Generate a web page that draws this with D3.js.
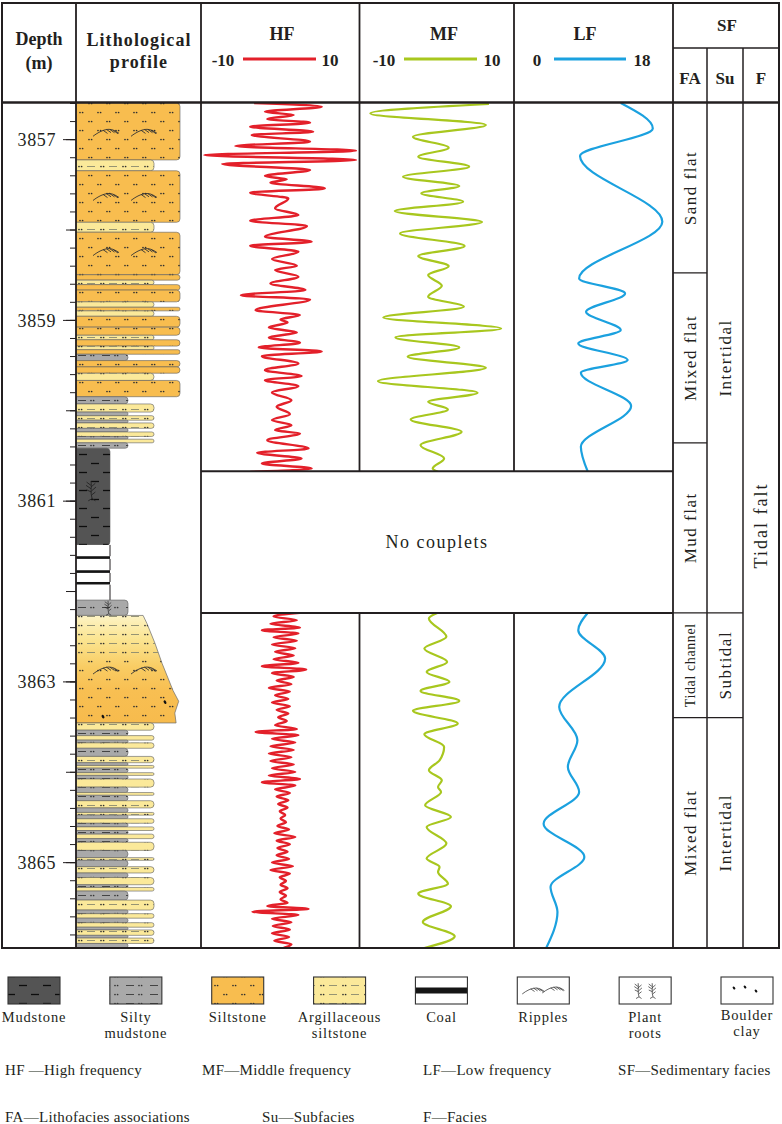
<!DOCTYPE html>
<html>
<head>
<meta charset="utf-8">
<script src="https://cdn.jsdelivr.net/npm/d3@7/dist/d3.min.js"></script>
<style>
html,body{margin:0;padding:0;background:#fff;}
svg{display:block;}
</style>
</head>
<body>
<svg id="chart" width="782" height="1124"></svg>
<script>
// ================= DATA =================
const depthDomain = [3856.6, 3865.95];
const depthLabels = [3857, 3859, 3861, 3863, 3865];
const hfRange = [-10, 10];
const mfRange = [-10, 10];
const lfRange = [0, 18];
const gapInterval = [3860.674, 3862.242];   // "No couplets"

// lithology beds: [top depth (m), lithology]
const beds = [
 [3856.60,"silt"],[3857.23,"argill"],[3857.35,"silt"],[3857.92,"argill"],[3858.03,"silt"],
 [3858.50,"silt"],[3858.56,"argill"],[3858.61,"silt"],[3858.67,"silt"],[3858.80,"argill"],
 [3858.86,"silt"],[3858.90,"argill"],[3858.96,"silt"],[3859.08,"silt"],[3859.17,"argill"],
 [3859.22,"silt"],[3859.29,"argill"],[3859.33,"silt"],[3859.38,"silty"],[3859.45,"silt"],
 [3859.52,"silt"],[3859.59,"argill"],[3859.67,"silt"],[3859.85,"silty"],[3859.93,"argill"],
 [3860.02,"silty"],[3860.06,"argill"],[3860.11,"silty"],[3860.14,"argill"],[3860.20,"silty"],
 [3860.24,"argill"],[3860.29,"silty"],[3860.32,"argill"],[3860.36,"silty"],[3860.42,"mud"],
 [3861.49,"gap"],[3861.615,"coal"],[3861.645,"gap"],[3861.77,"coal"],[3861.80,"gap"],
 [3861.90,"coal"],[3861.93,"gap"],[3862.10,"silty"],[3862.27,"graded"],
 [3863.46,"argill"],[3863.54,"silty"],[3863.60,"argill"],[3863.65,"silty"],[3863.68,"argill"],
 [3863.74,"silty"],[3863.83,"argill"],[3863.90,"silty"],[3863.93,"argill"],[3863.96,"silty"],
 [3864.01,"argill"],[3864.04,"silty"],[3864.08,"argill"],[3864.17,"silty"],[3864.23,"argill"],
 [3864.26,"silty"],[3864.32,"argill"],[3864.40,"silty"],[3864.45,"argill"],[3864.48,"silty"],
 [3864.52,"argill"],[3864.57,"silty"],[3864.61,"argill"],[3864.65,"silty"],[3864.69,"argill"],
 [3864.74,"silty"],[3864.78,"argill"],[3864.87,"silty"],[3864.95,"argill"],[3864.98,"silty"],
 [3865.05,"argill"],[3865.12,"silty"],[3865.17,"argill"],[3865.25,"silty"],[3865.28,"argill"],
 [3865.32,"silty"],[3865.42,"argill"],[3865.53,"silty"],[3865.57,"argill"],[3865.62,"silty"],
 [3865.67,"argill"],[3865.72,"silty"],[3865.75,"argill"],[3865.81,"silty"],[3865.84,"argill"],
 [3865.90,"silty"]
];
// grain-size classes (column width in a litholog)
const grainClass = {mud:1, gap:1, coal:1, silty:2, argill:3, silt:4};
// fining-upward bed: right edge as [depth, grain class]
const gradedEdge = [[3862.27,2.58],[3862.36,2.73],[3862.58,3.04],[3862.80,3.31],[3863.10,3.73],[3863.22,3.95],[3863.35,3.8],[3863.46,3.85]];
const rippleDepths = [3856.93, 3857.64, 3858.25, 3862.88];
const rootDepths = [3860.88, 3862.18];
const boulderDepths = [3863.23, 3863.39];

// wavelet curves: [depth, amplitude]
const hfUpper = [
 [3856.60,-3.3],[3856.641,5.4],[3856.696,-1.9],[3856.733,1.8],[3856.777,-1.6],[3856.818,3.9],
 [3856.862,-3.8],[3856.918,4.3],[3856.954,-3.6],[3857.028,3.9],[3857.076,-5.7],[3857.128,9.8],
 [3857.176,-9.7],[3857.231,9.8],[3857.275,-7.4],[3857.342,3.9],[3857.408,-1.9],[3857.445,0.9],
 [3857.482,-1.2],[3857.545,5.8],[3857.593,-3.8],[3857.656,1.1],[3857.766,-0.6],[3857.840,2.4],
 [3857.903,-3.8],[3857.962,3.5],[3858.080,-1.9],[3858.135,4.1],[3858.180,-3.8],[3858.246,2.4],
 [3858.327,-1.0],[3858.401,2.2],[3858.449,-0.6],[3858.523,2.4],[3858.597,-1.2],[3858.670,3.3],
 [3858.726,-5.0],[3858.774,3.9],[3858.892,-3.1],[3858.947,2.6],[3858.995,0.1],[3859.028,1.0],
 [3859.084,-1.4],[3859.139,2.2],[3859.194,-1.4],[3859.253,2.6],[3859.305,-2.7],[3859.349,5.4],
 [3859.401,-2.3],[3859.482,2.4],[3859.556,-1.9],[3859.622,2.8],[3859.667,-1.9],[3859.733,2.4],
 [3859.803,-1.0],[3859.888,1.5],[3859.962,-0.4],[3860.043,1.3],[3860.109,-1.0],[3860.165,1.5],
 [3860.220,-0.6],[3860.257,2.6],[3860.331,-1.6],[3860.423,3.7],[3860.471,-2.9],[3860.534,2.8],
 [3860.589,-2.3],[3860.645,4.1],[3860.682,-3.8]
];
const hfLower = [
 [3862.242,2.6],[3862.282,-0.8],[3862.323,2.2],[3862.363,-1.2],[3862.404,2.6],[3862.433,-2.3],
 [3862.470,2.4],[3862.511,-0.8],[3862.551,2.2],[3862.592,-1.0],[3862.633,2.0],[3862.673,-0.6],
 [3862.714,1.8],[3862.754,-0.8],[3862.795,2.4],[3862.832,-2.3],[3862.869,3.4],[3862.909,-1.0],
 [3862.950,1.8],[3862.991,-0.4],[3863.031,1.5],[3863.072,-1.4],[3863.112,1.3],[3863.153,-0.6],
 [3863.194,1.1],[3863.234,-1.0],[3863.275,1.3],[3863.315,-0.4],[3863.356,1.1],[3863.396,-0.2],
 [3863.437,0.9],[3863.485,-0.6],[3863.526,2.2],[3863.559,-3.1],[3863.596,2.4],[3863.636,-1.0],
 [3863.677,2.0],[3863.718,-1.2],[3863.758,1.8],[3863.799,-1.4],[3863.839,1.5],[3863.880,-1.2],
 [3863.920,1.8],[3863.961,-1.0],[3864.002,2.0],[3864.042,-1.4],[3864.079,2.6],[3864.116,-2.3],
 [3864.153,2.0],[3864.194,-0.6],[3864.234,1.3],[3864.275,-0.4],[3864.315,1.1],[3864.356,-0.2],
 [3864.396,1.0],[3864.437,0.0],[3864.478,0.7],[3864.518,0.1],[3864.559,0.8],[3864.599,-0.3],
 [3864.640,1.2],[3864.681,-0.7],[3864.721,2.0],[3864.762,-0.4],[3864.802,1.3],[3864.843,-0.3],
 [3864.884,1.0],[3864.924,-0.4],[3864.965,1.2],[3865.005,-1.0],[3865.046,1.7],[3865.087,-1.2],
 [3865.127,1.3],[3865.168,0.0],[3865.208,0.8],[3865.249,0.1],[3865.289,1.0],[3865.330,0.0],
 [3865.371,0.8],[3865.411,0.1],[3865.452,1.0],[3865.485,-1.6],[3865.518,3.7],[3865.548,-3.5],
 [3865.585,2.4],[3865.625,-1.0],[3865.666,1.5],[3865.706,-0.9],[3865.747,1.3],[3865.788,-1.0],
 [3865.828,1.2],[3865.869,-0.7],[3865.909,1.5],[3865.950,0.5]
];
const mfUpper = [
 [3856.611,6.9],[3856.715,-8.7],[3856.844,6.5],[3856.973,-3.1],[3857.095,1.6],[3857.194,-2.4],
 [3857.305,4.3],[3857.416,-4.4],[3857.519,3.0],[3857.600,-2.0],[3857.692,3.5],[3857.796,-5.5],
 [3857.918,6.0],[3858.043,-4.8],[3858.183,3.7],[3858.294,-2.4],[3858.405,1.6],[3858.504,-1.1],
 [3858.622,0.7],[3858.744,-1.1],[3858.855,3.6],[3858.973,-7.0],[3859.095,8.5],[3859.194,-5.4],
 [3859.305,3.0],[3859.408,-3.8],[3859.530,6.5],[3859.678,-7.7],[3859.807,5.4],[3859.906,-1.1],
 [3859.991,1.5],[3860.102,-3.4],[3860.239,3.3],[3860.386,-2.1],[3860.534,1.0],[3860.644,-0.5],
 [3860.680,0.2]
];
const mfLower = [
 [3862.242,0.1],[3862.304,-1.0],[3862.507,1.3],[3862.636,-1.6],[3862.784,1.4],[3862.895,-1.3],
 [3863.005,1.7],[3863.105,-2.1],[3863.216,3.0],[3863.326,-3.1],[3863.467,2.8],[3863.585,-1.6],
 [3863.725,1.0],[3863.873,0.4],[3863.983,-1.0],[3864.094,0.7],[3864.168,0.2],[3864.223,0.6],
 [3864.371,-1.5],[3864.500,1.9],[3864.611,-1.3],[3864.795,1.3],[3864.961,-1.3],[3865.053,0.4],
 [3865.109,0.2],[3865.238,1.5],[3865.349,-2.4],[3865.489,1.9],[3865.662,-1.8],[3865.821,2.4],
 [3865.950,-1.6]
];
const lfUpper = [
 [3856.60,12.2],[3856.881,15.9],[3857.187,7.5],[3857.914,17.0],[3858.541,7.4],[3858.707,12.7],
 [3858.910,8.2],[3859.113,12.2],[3859.261,7.3],[3859.445,13.0],[3859.585,7.6],[3859.954,13.4],
 [3860.405,7.6],[3860.680,8.4]
];
const lfLower = [
 [3862.242,8.4],[3862.433,7.3],[3862.747,10.4],[3863.282,5.1],[3863.651,7.2],[3863.946,6.1],
 [3864.223,7.4],[3864.574,3.3],[3864.943,8.0],[3865.275,4.1],[3865.552,4.9],[3865.950,3.6]
];

// sedimentary facies
const faUnits = [
 {top:3856.60, bottom:3858.48, name:"Sand flat"},
 {top:3858.48, bottom:3860.36, name:"Mixed flat"},
 {top:3860.36, bottom:3862.242, name:"Mud flat"},
 {top:3862.242, bottom:3863.40, name:"Tidal channel"},
 {top:3863.40, bottom:3865.95, name:"Mixed flat"}
];
const suUnits = [
 {top:3856.60, bottom:3862.242, name:"Intertidal"},
 {top:3862.242, bottom:3863.40, name:"Subtidal"},
 {top:3863.40, bottom:3865.95, name:"Intertidal"}
];
const fUnits = [{top:3856.60, bottom:3865.95, name:"Tidal falt"}];

const legendKeys = ["mud","silty","silt","argill","coal","ripple","root","boulder"];
const legendLabels = [["Mudstone"],["Silty","mudstone"],["Siltstone"],["Argillaceous","siltstone"],["Coal"],["Ripples"],["Plant","roots"],["Boulder","clay"]];
const abbrevRow1 = ["HF —High frequency","MF—Middle frequency","LF—Low frequency","SF—Sedimentary facies"];
const abbrevRow2 = ["FA—Lithofacies associations","Su—Subfacies","F—Facies"];

// ================= DRAWING =================
const svg = d3.select("#chart");
const INK = "#231f20";
const SERIF = "'Liberation Serif','Times New Roman',Times,serif";
const COL = {left:2, depthR:76, hf:201, mf:359.5, lf:514, sf:673, su:707, f:743, right:779};
const TOP = 3, HEAD = 102.5, BOTTOM = 948;
const COLORS = {silt:"#F8BD4F", argill:"#FBE99A", silty:"#A9A9A9", mud:"#545454", gap:"#ffffff", coal:"#151515"};
const PAT = {silt:"pSilt", argill:"pArgill", silty:"pSilty", mud:"pMud"};

const y = d3.scaleLinear().domain(depthDomain).range([103, BOTTOM]);
const xHF = d3.scaleLinear().domain(hfRange).range([202, 357.5]);
const xMF = d3.scaleLinear().domain(mfRange).range([360.5, 512.5]);
const xLF = d3.scaleLinear().domain(lfRange).range([515, 671]);
const grain = d3.scaleLinear().domain([1,2,3,4]).range([110,128,154,180]);

const defs = svg.append("defs");
function makePattern(id, w, h, fn) {
  const p = defs.append("pattern").attr("id", id).attr("patternUnits","userSpaceOnUse")
    .attr("width", w).attr("height", h).attr("x", 76).attr("y", 0);
  fn(p);
}
const dot = (p, cx, cy, c) => p.append("circle").attr("cx",cx).attr("cy",cy).attr("r",0.85).attr("fill",c||"#2e2e2e");
const dash = (p, x1, x2, yy, c, w) => p.append("line").attr("x1",x1).attr("x2",x2).attr("y1",yy).attr("y2",yy).attr("stroke",c).attr("stroke-width",w);
makePattern("pSilt", 18, 18, p => { dot(p,4,4.5); dot(p,6.6,4.5); dot(p,13,13.5); dot(p,15.6,13.5); });
makePattern("pArgill", 22, 9, p => { dot(p,3,4.5); dot(p,5.6,4.5); dash(p,11,19,4.5,"#8a8a6e",0.9); });
makePattern("pSilty", 24, 9, p => { dash(p,2,10,4.5,"#444",1); dot(p,15,4.5,"#333"); dot(p,17.6,4.5,"#333"); });
makePattern("pMud", 24, 18, p => { dash(p,3,11,4.5,"#0d0d0d",1.3); dash(p,15,23,13.5,"#0d0d0d",1.3); });

const grad = defs.append("linearGradient").attr("id","gGraded").attr("x1",0).attr("y1",0).attr("x2",0).attr("y2",1);
[[0,"#FDF3C4"],[0.22,"#FBE592"],[0.48,"#F9CC63"],[0.7,"#F8BF52"],[1,"#F7BB4D"]].forEach(s =>
  grad.append("stop").attr("offset", s[0]).attr("stop-color", s[1]));

function clipRect(id, x, yy, w, h) {
  defs.append("clipPath").attr("id", id).append("rect").attr("x",x).attr("y",yy).attr("width",w).attr("height",h);
}

// ---- lithology column ----
const gLith = svg.append("g");
function bedPath(x0, xr, y0, y1) {
  const r = Math.max(0, Math.min(3.5, (y1-y0)/2, xr-x0));
  return `M${x0},${y0}H${xr-r}Q${xr},${y0} ${xr},${y0+r}V${y1-r}Q${xr},${y1} ${xr-r},${y1}H${x0}Z`;
}
beds.forEach((b, i) => {
  const top = b[0], bottom = i < beds.length-1 ? beds[i+1][0] : depthDomain[1];
  const type = b[1];
  const y0 = y(top), y1 = y(bottom);
  if (type === "graded") {
    const pts = [[76, y0]].concat(gradedEdge.map(e => [grain(e[1]), y(e[0])])).concat([[76, y1]]);
    const d = d3.line()(pts) + "Z";
    gLith.append("path").attr("d", d).attr("fill","url(#gGraded)").attr("stroke","#6a6a6a").attr("stroke-width",0.7);
    const split = y(3862.72);
    clipRect("cGradTop", 76, y0, 120, split - y0);
    clipRect("cGradBot", 76, split, 120, y1 - split);
    gLith.append("path").attr("d", d).attr("fill","url(#pArgill)").attr("clip-path","url(#cGradTop)");
    gLith.append("path").attr("d", d).attr("fill","url(#pSilt)").attr("clip-path","url(#cGradBot)");
    return;
  }
  const xr = grain(grainClass[type]);
  if (type === "coal") {
    gLith.append("rect").attr("x",76).attr("y",y0).attr("width",xr-76).attr("height",y1-y0).attr("fill",COLORS.coal);
    return;
  }
  if (type === "gap") {
    gLith.append("rect").attr("x",76).attr("y",y0).attr("width",xr-76).attr("height",y1-y0).attr("fill","#fff");
    gLith.append("line").attr("x1",xr).attr("x2",xr).attr("y1",y0).attr("y2",y1).attr("stroke",INK).attr("stroke-width",1);
    return;
  }
  const d = bedPath(76, xr, y0, y1);
  gLith.append("path").attr("d", d).attr("fill", COLORS[type]).attr("stroke","#5e5e5e").attr("stroke-width",0.6);
  gLith.append("path").attr("d", d).attr("fill", `url(#${PAT[type]})`);
});

function ripple(g, cx, cy, s) {
  const gg = g.append("g").attr("transform",`translate(${cx},${cy}) scale(${s})`)
    .attr("fill","none").attr("stroke","#333").attr("stroke-width",0.9);
  gg.append("path").attr("d","M-13,3.5 C-8,-0.5 -2,-3.5 3,-3.5 C7,-3.5 10,-1.5 13,0.5");
  [[-3,-2.6],[0.5,-3.4],[4,-3.3],[7.5,-2.3]].forEach(p =>
    gg.append("line").attr("x1",p[0]).attr("y1",p[1]).attr("x2",p[0]+4.5).attr("y2",p[1]+3.2));
}
function root(g, cx, cy, s) {
  const gg = g.append("g").attr("transform",`translate(${cx},${cy}) scale(${s})`)
    .attr("fill","none").attr("stroke","#222").attr("stroke-width",0.8);
  gg.append("path").attr("d","M0,-8 C1,-3 -1,2 1,8 M0,-4 L-4,-7 M0,-1 L-4.5,-4 M0.3,2 L-4,0 M0,-2.5 L4,-6 M0.5,1 L4.5,-2.5 M0.8,4.5 L4,2 M1,8 L-2.5,10 M1,8 L4,10");
}
rippleDepths.forEach(d => { ripple(gLith, 106, y(d), 1); ripple(gLith, 144, y(d), 1); });
root(gLith, 91, y(rootDepths[0]), 1.1);
root(gLith, 108, y(rootDepths[1]), 0.8);
const boulderX = [165, 103];
boulderDepths.forEach((d, i) => gLith.append("ellipse").attr("cx", boulderX[i]).attr("cy", y(d))
  .attr("rx",1.2).attr("ry",2).attr("fill","#111").attr("transform",`rotate(-30,${boulderX[i]},${y(d)})`));

// ---- depth axis ----
const minorTicks = d3.range(0, 47).map(i => +(3856.6 + i*0.2).toFixed(1)).filter(v => v <= depthDomain[1]);
const meterTicks = d3.range(3857, 3866);
function axisG(vals, size, fmt) {
  const g = svg.append("g").attr("transform",`translate(${COL.depthR},0)`)
    .call(d3.axisLeft(y).tickValues(vals).tickSize(size).tickPadding(7).tickFormat(fmt));
  g.select(".domain").remove();
  g.selectAll("line").attr("stroke", INK).attr("stroke-width", 1);
  return g;
}
axisG(minorTicks, 6, () => "");
axisG(meterTicks, 10, () => "");
const gLab = axisG(depthLabels, 13, d3.format("d"));
gLab.selectAll("text").attr("font-family", SERIF).attr("font-size", 18).attr("fill", INK)
  .attr("letter-spacing", 0.6).attr("dy", "0.34em");

// ---- wavelet curves ----
const yGap0 = y(gapInterval[0]), yGap1 = y(gapInterval[1]);
clipRect("cHFu", COL.hf, 103, COL.mf-COL.hf, yGap0-103);
clipRect("cHFl", COL.hf, yGap1, COL.mf-COL.hf, BOTTOM-yGap1);
clipRect("cMFu", COL.mf, 103, COL.lf-COL.mf, yGap0-103);
clipRect("cMFl", COL.mf, yGap1, COL.lf-COL.mf, BOTTOM-yGap1);
clipRect("cLFu", COL.lf, 103, COL.sf-COL.lf, yGap0-103);
clipRect("cLFl", COL.lf, yGap1, COL.sf-COL.lf, BOTTOM-yGap1);
function curve(data, xs, color, w, clip) {
  const line = d3.line().x(d => xs(d[1])).y(d => y(d[0])).curve(d3.curveMonotoneY);
  svg.append("path").datum(data).attr("d", line).attr("fill","none").attr("stroke", color)
    .attr("stroke-width", w).attr("stroke-linejoin","round").attr("clip-path", `url(#${clip})`);
}
const RED = "#E3202A", GREEN = "#A8C71E", BLUE = "#1BA1DF";
curve(hfUpper, xHF, RED, 2.4, "cHFu");
curve(hfLower, xHF, RED, 2.4, "cHFl");
curve(mfUpper, xMF, GREEN, 2.2, "cMFu");
curve(mfLower, xMF, GREEN, 2.2, "cMFl");
curve(lfUpper, xLF, BLUE, 2.2, "cLFu");
curve(lfLower, xLF, BLUE, 2.2, "cLFl");

// ---- frame lines ----
const gF = svg.append("g").attr("stroke", INK).attr("fill","none");
const L = (x1,y1,x2,y2,w) => gF.append("line").attr("x1",x1).attr("y1",y1).attr("x2",x2).attr("y2",y2).attr("stroke-width",w);
gF.append("rect").attr("x",COL.left).attr("y",TOP).attr("width",COL.right-COL.left).attr("height",BOTTOM-TOP).attr("stroke-width",2);
L(COL.left, HEAD, COL.right, HEAD, 2.6);
L(COL.depthR, TOP, COL.depthR, BOTTOM, 1.8);
L(COL.hf, TOP, COL.hf, BOTTOM, 1.8);
L(COL.sf, TOP, COL.sf, BOTTOM, 1.8);
[COL.mf, COL.lf].forEach(x => { L(x, TOP, x, yGap0, 1.8); L(x, yGap1, x, BOTTOM, 1.8); });
L(COL.hf, yGap0, COL.sf, yGap0, 2);
L(COL.hf, yGap1, COL.sf, yGap1, 2);
L(COL.sf, 48, COL.right, 48, 1.5);
L(COL.su, 48, COL.su, BOTTOM, 1.5);
L(COL.f, 48, COL.f, BOTTOM, 1.5);
faUnits.slice(1).forEach(u => L(COL.sf, y(u.top), COL.su, y(u.top), 1.3));
suUnits.slice(1).forEach(u => L(COL.su, y(u.top), COL.f, y(u.top), 1.3));

// ---- facies labels ----
function vText(units, x0, x1, size, spacing) {
  units.forEach(u => {
    const cx = (x0 + x1)/2, cy = (y(u.top) + y(u.bottom))/2;
    const small = u.name === "Tidal channel";
    svg.append("text").attr("transform",`translate(${cx + (small?4.5:6)},${cy}) rotate(-90)`)
      .attr("text-anchor","middle").attr("font-family",SERIF)
      .attr("font-size", small ? 14 : size).attr("letter-spacing", small ? 0.6 : spacing)
      .attr("fill", INK).text(u.name);
  });
}
vText(faUnits, COL.sf, COL.su, 17, 1.5);
vText(suUnits, COL.su, COL.f, 17, 1.5);
vText(fUnits, COL.f, COL.right, 18, 2);

svg.append("text").attr("x",(COL.hf+COL.sf)/2).attr("y",(yGap0+yGap1)/2+6).attr("text-anchor","middle")
  .attr("font-family",SERIF).attr("font-size",18).attr("letter-spacing",1.5).attr("fill",INK).text("No couplets");

// ---- header ----
const hText = (x, yy, t, size, ls) => svg.append("text").attr("x",x).attr("y",yy).attr("text-anchor","middle")
  .attr("font-family",SERIF).attr("font-weight","bold").attr("font-size",size||18)
  .attr("letter-spacing", ls||0).attr("fill",INK).text(t);
hText(39, 45, "Depth");
hText(39, 69, "(m)");
hText(139, 46, "Lithological", 18, 1.1);
hText(139, 68, "profile", 18, 1.1);
const headerCurves = [
  {name:"HF", cx:282, xlo:223, xhi:330, l0:243, l1:316, color:RED, range:hfRange},
  {name:"MF", cx:444, xlo:384, xhi:492, l0:404, l1:477, color:GREEN, range:mfRange},
  {name:"LF", cx:585, xlo:537, xhi:642, l0:554, l1:626, color:BLUE, range:lfRange}
];
headerCurves.forEach(h => {
  hText(h.cx, 40, h.name);
  hText(h.xlo, 66, String(h.range[0]), 17);
  hText(h.xhi, 66, String(h.range[1]), 17);
  svg.append("line").attr("x1",h.l0).attr("x2",h.l1).attr("y1",59).attr("y2",59)
    .attr("stroke",h.color).attr("stroke-width",3);
});
hText(727, 31, "SF", 17);
hText(690, 84, "FA", 17);
hText(725, 84, "Su", 17);
hText(761, 84, "F", 17);

// ---- legend ----
const lx = d3.scalePoint().domain(legendKeys).range([34, 747]);
const BW = 52, BH = 27, BY = 977;
const gLeg = svg.append("g");
legendKeys.forEach((k, i) => {
  const cx = lx(k), x0 = cx - BW/2;
  const box = () => gLeg.append("rect").attr("x",x0).attr("y",BY).attr("width",BW).attr("height",BH);
  if (COLORS[k] && PAT[k]) {
    box().attr("fill", COLORS[k]);
    box().attr("fill", `url(#${PAT[k]})`);
  } else {
    box().attr("fill","#fff");
    if (k === "coal") gLeg.append("rect").attr("x",x0).attr("y",BY+10.5).attr("width",BW).attr("height",6).attr("fill","#151515");
    if (k === "ripple") { ripple(gLeg, cx-10, BY+14, 0.85); ripple(gLeg, cx+10, BY+13, 0.85); }
    if (k === "root") { root(gLeg, cx-7, BY+13, 0.85); root(gLeg, cx+7, BY+13, 0.85); }
    if (k === "boulder") [[-13,11],[-2,10],[9,14]].forEach(p =>
      gLeg.append("ellipse").attr("cx",cx+p[0]).attr("cy",BY+p[1]).attr("rx",1.1).attr("ry",1.7)
        .attr("fill","#111").attr("transform",`rotate(-40,${cx+p[0]},${BY+p[1]})`));
  }
  gLeg.append("rect").attr("x",x0).attr("y",BY).attr("width",BW).attr("height",BH)
    .attr("fill","none").attr("stroke","#333").attr("stroke-width",1.1);
  legendLabels[i].forEach((t, j) => {
    const base = k === "boulder" ? 1020 : 1022;
    gLeg.append("text").attr("x",cx).attr("y", base + j*16).attr("text-anchor","middle")
      .attr("font-family",SERIF).attr("font-size",14.5).attr("letter-spacing",0.8).attr("fill",INK).text(t);
  });
});
const row1X = [5, 202, 423, 618], row2X = [5, 262, 423];
abbrevRow1.forEach((t, i) => svg.append("text").attr("x",row1X[i]).attr("y",1075)
  .attr("font-family",SERIF).attr("font-size",15).attr("letter-spacing",0.3).attr("fill",INK).text(t));
abbrevRow2.forEach((t, i) => svg.append("text").attr("x",row2X[i]).attr("y",1122)
  .attr("font-family",SERIF).attr("font-size",15).attr("letter-spacing",0.3).attr("fill",INK).text(t));
</script>
</body>
</html>
